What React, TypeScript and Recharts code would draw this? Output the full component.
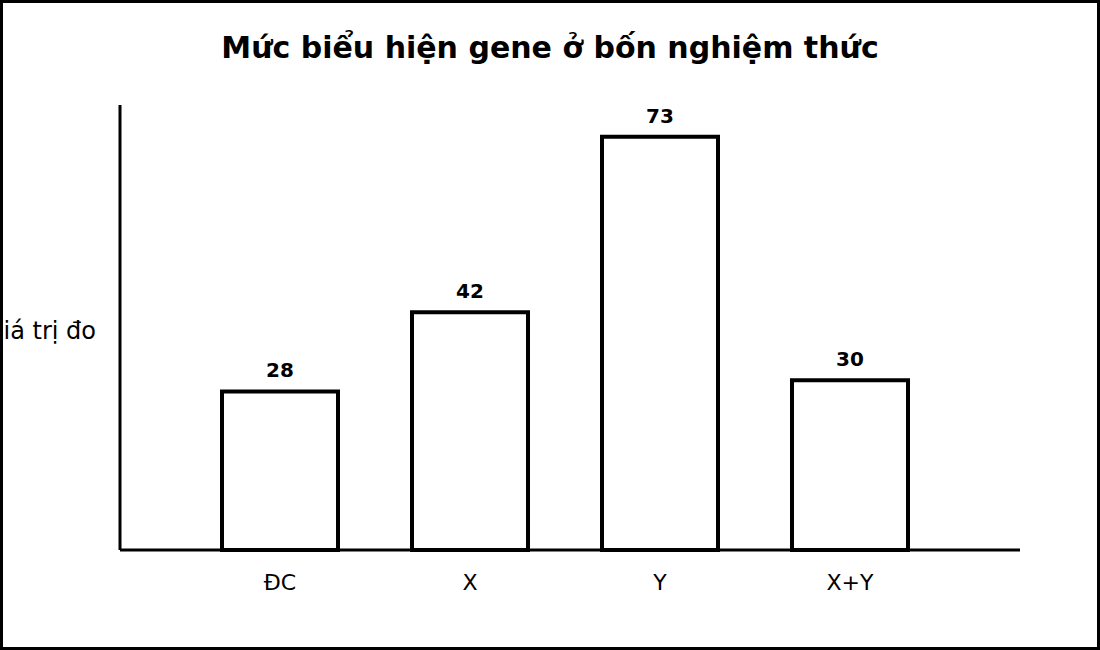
import { BarChart, Bar, XAxis, YAxis, LabelList } from "recharts"

const categories = ["ĐC", "X", "Y", "X+Y"]
const values = [28, 42, 73, 30]

const data = categories.map((name, i) => ({ name, value: values[i] }))

const FONT = "'DejaVu Sans', sans-serif"

export default function App() {
  return (
    <div
      style={{
        position: "absolute",
        left: 0,
        top: 0,
        width: 1100,
        height: 650,
        boxSizing: "border-box",
        border: "3px solid #000",
        background: "#fff",
        overflow: "hidden",
        fontFamily: FONT,
      }}
    >
      <div
        style={{
          position: "absolute",
          left: -3,
          top: 27,
          width: 1100,
          textAlign: "center",
          fontSize: 30,
          fontWeight: "bold",
          lineHeight: "36px",
        }}
      >
        Mức biểu hiện gene ở bốn nghiệm thức
      </div>
      <div style={{ position: "absolute", left: -3, top: -3 }}>
        <BarChart
          width={1100}
          height={650}
          data={data}
          margin={{ top: 105, right: 80, bottom: 50, left: 60 }}
        >
          <XAxis
            dataKey="name"
            height={50}
            padding={{ left: 65, right: 75 }}
            axisLine={{ stroke: "#000", strokeWidth: 3 }}
            tickLine={false}
            tick={{ fill: "#000", fontSize: 22, fontFamily: FONT }}
            tickMargin={18}
          />
          <YAxis
            width={60}
            domain={[0, 78.6]}
            axisLine={{ stroke: "#000", strokeWidth: 3 }}
            tickLine={false}
            tick={false}
            label={{
              value: "Giá trị đo",
              content: () => (
                <text
                  x={96}
                  y={339}
                  textAnchor="end"
                  fontSize={24}
                  fontFamily={FONT}
                  fill="#000"
                >
                  Giá trị đo
                </text>
              ),
            }}
          />
          <Bar
            dataKey="value"
            fill="#fff"
            stroke="#000"
            strokeWidth={4}
            barSize={116}
            isAnimationActive={false}
          >
            <LabelList
              dataKey="value"
              position="top"
              offset={14}
              style={{ fill: "#000", fontSize: 20, fontWeight: "bold", fontFamily: FONT }}
            />
          </Bar>
        </BarChart>
      </div>
    </div>
  )
}
